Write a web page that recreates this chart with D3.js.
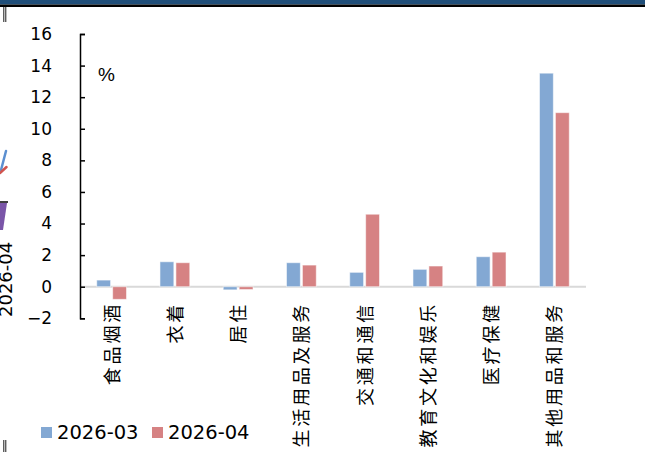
<!DOCTYPE html>
<html><head><meta charset="utf-8">
<script src="https://cdn.jsdelivr.net/npm/d3@7"></script>
<style>body{margin:0;background:#fff}svg{display:block}</style>
</head><body>
<script>
const categories = ["食品烟酒","衣着","居住","生活用品及服务","交通和通信","教育文化和娱乐","医疗保健","其他用品和服务"];
const seriesNames = ["2026-03","2026-04"];
const values0303 = [0.42, 1.58, -0.2, 1.52, 0.91, 1.1, 1.9, 13.52];
const values0304 = [-0.8, 1.52, -0.18, 1.37, 4.59, 1.31, 2.19, 11.02];
const yTicks = [-2,0,2,4,6,8,10,12,14,16];
const colors = ["#83a8d3","#d68283"];

const W=645,H=452;
const svg=d3.select("body").append("svg").attr("width",W).attr("height",H);
const font="'DejaVu Sans', sans-serif";

// top band
svg.append("rect").attr("x",0).attr("y",0).attr("width",W).attr("height",4.5).attr("fill","#1f4e79");
svg.append("rect").attr("x",0).attr("y",4.5).attr("width",W).attr("height",2.5).attr("fill","#000");
// small edge marks
[[7,22],[440,452]].forEach(([a,b])=>{
  svg.append("line").attr("x1",3.8).attr("x2",3.8).attr("y1",a).attr("y2",b).attr("stroke","#000").attr("stroke-width",0.9);
  svg.append("line").attr("x1",5.8).attr("x2",5.8).attr("y1",a).attr("y2",b).attr("stroke","#000").attr("stroke-width",0.9);
});
// cropped neighbour chart fragments
svg.append("line").attr("x1",1).attr("y1",170).attr("x2",6).attr("y2",151).attr("stroke","#5b8fd0").attr("stroke-width",2.5).attr("stroke-linecap","round");
svg.append("line").attr("x1",0).attr("y1",173).attr("x2",6.5).attr("y2",167).attr("stroke","#d0554f").attr("stroke-width",2.5).attr("stroke-linecap","round");
svg.append("line").attr("x1",0).attr("y1",202).attr("x2",8).attr("y2",202).attr("stroke","#000").attr("stroke-width",1.5);
svg.append("path").attr("d","M0,203 L7,203 L3,230 L0,230 Z").attr("fill","#7a55a8");
svg.append("text").attr("transform","translate(12,317) rotate(-90)").attr("font-family",font).attr("font-size",18).attr("fill","#000").text("2026-04");

const x0=d3.scaleBand().domain(categories).range([80,586]);
const x1=d3.scaleBand().domain(seriesNames).range([0,x0.bandwidth()]).paddingInner(0.13).paddingOuter(1.05);
const y=d3.scaleLinear().domain([-2,16]).range([318.3,34]);

// zero line
svg.append("line").attr("x1",80).attr("x2",586).attr("y1",y(0)).attr("y2",y(0)).attr("stroke","#d9d9d9").attr("stroke-width",2);

const data=categories.map((c,i)=>({c,vals:[values0303[i],values0304[i]]}));
const g=svg.append("g");
data.forEach(d=>{
  d.vals.forEach((v,j)=>{
    g.append("rect")
      .attr("x",x0(d.c)+x1(seriesNames[j]))
      .attr("width",x1.bandwidth())
      .attr("y",y(Math.max(0,v)))
      .attr("height",Math.abs(y(v)-y(0)))
      .attr("fill",colors[j])
      .attr("stroke","rgba(255,255,255,0.55)").attr("stroke-width",1);
  });
});

// y axis
const yAxis=d3.axisLeft(y).tickValues(yTicks).tickSizeInner(-5).tickSizeOuter(-5).tickPadding(28)
  .tickFormat(d=>d<0?"−"+Math.abs(d):d);
const ya=svg.append("g").attr("transform","translate(80,0)").call(yAxis);
ya.select(".domain").attr("stroke","#000").attr("stroke-width",1.5);
ya.selectAll(".tick line").attr("stroke","#000").attr("stroke-width",1.5);
ya.selectAll("text").attr("font-family",font).attr("font-size",17).attr("fill","#000");

svg.append("text").attr("x",98).attr("y",81).attr("font-family","'Liberation Sans Narrow', 'Liberation Sans', sans-serif").attr("font-size",19).attr("fill","#000").text("%");

// x labels
categories.forEach(c=>{
  svg.append("text")
    .attr("transform",`translate(${x0(c)+x0.bandwidth()/2+7},302) rotate(-90)`)
    .attr("text-anchor","end")
    .attr("font-family","'Noto Sans CJK SC', sans-serif")
    .attr("font-size",18).attr("letter-spacing",2.8).attr("fill","#000")
    .text(c);
});

// legend
const leg=[[41,"2026-03"],[152,"2026-04"]];
leg.forEach(([lx,t],i)=>{
  svg.append("rect").attr("x",lx).attr("y",427).attr("width",11).attr("height",11).attr("fill",colors[i]);
  svg.append("text").attr("x",lx+16).attr("y",439).attr("font-family",font).attr("font-size",19.5).attr("fill","#000").text(t);
});
</script>
</body></html>
